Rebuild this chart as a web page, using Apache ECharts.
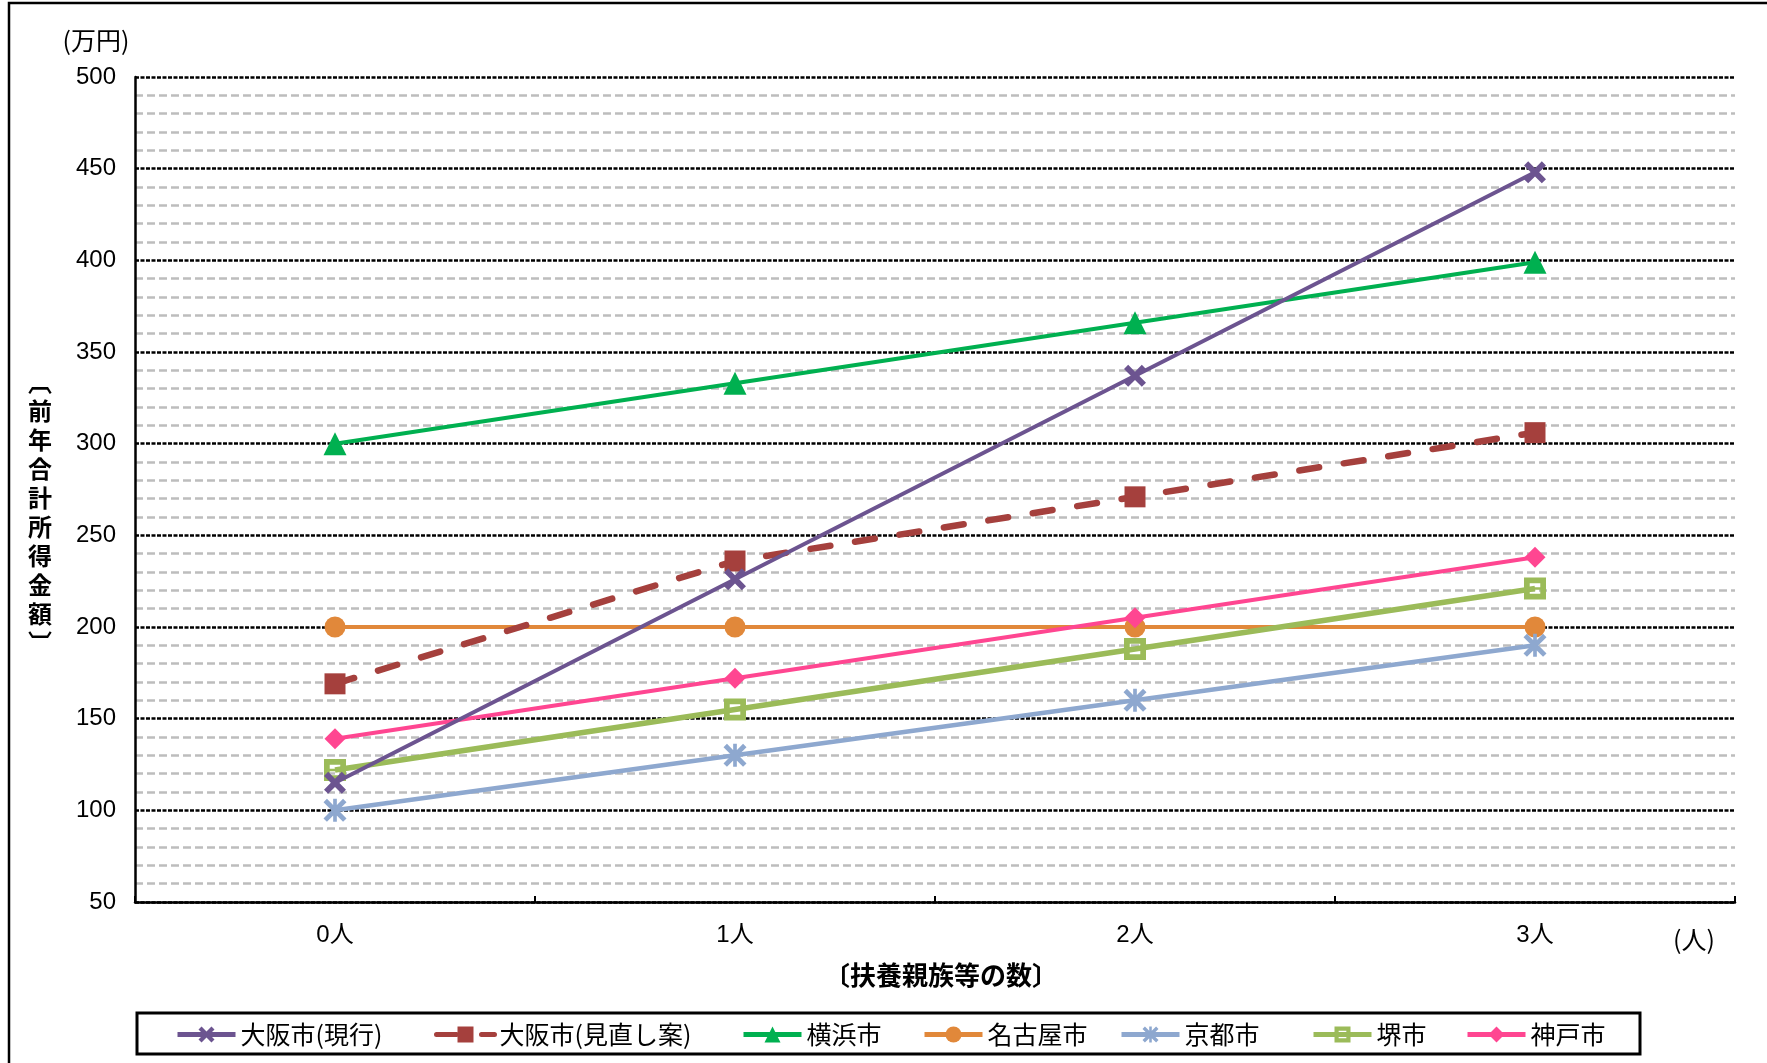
<!DOCTYPE html>
<html>
<head>
<meta charset="utf-8">
<script src="https://cdn.jsdelivr.net/npm/echarts@6/dist/echarts.min.js"></script>
<style>
  html, body { margin: 0; padding: 0; background: #ffffff; }
  #chart { width: 1767px; height: 1063px; }
</style>
</head>
<body>
<div id="chart"></div>
<script>
// 扶養親族等の数
const categories = ['0人', '1人', '2人', '3人'];
// y軸目盛
const yMin = 50, yMax = 500, yStep = 50;

// 前年合計所得金額（万円）
const osakaCurrent = [115, 226, 337, 448];
const osakaRevised = [169, 236, 271, 306];
const yokohama     = [300, 333, 366, 399];
const nagoya       = [200, 200, 200, 200];
const kyoto        = [100, 130, 160, 190];
const sakai        = [122, 155, 188, 221];
const kobe         = [139, 172, 205, 238];

const seriesNames = ['大阪市(現行)', '大阪市(見直し案)', '横浜市', '名古屋市', '京都市', '堺市', '神戸市'];

const FONT = '"Liberation Sans", "Noto Sans CJK JP", sans-serif';
const JFONT = '"Noto Sans CJK JP", sans-serif';

// マーカー形状
const SYM_X = 'path://M0,1.9 L1.9,0 L5,3.1 L8.1,0 L10,1.9 L6.9,5 L10,8.1 L8.1,10 L5,6.9 L1.9,10 L0,8.1 L3.1,5 Z';
const SYM_STAR = 'path://M0,1.5 L1.5,0 L5,3.5 L8.5,0 L10,1.5 L6.5,5 L10,8.5 L8.5,10 L5,6.5 L1.5,10 L0,8.5 L3.5,5 Z M4.2,0 L5.8,0 L5.8,10 L4.2,10 Z';
const SYM_RING = 'path://M0,0 H10 V10 H0 Z M2.6,2.6 V4.4 H7.4 V2.6 Z M2.6,5.6 V7.4 H7.4 V5.6 Z';

function lineSeries(name, data, color, width, symbol, size, extra) {
  return Object.assign({
    name: name,
    type: 'line',
    data: data,
    symbol: symbol,
    symbolSize: size,
    showAllSymbol: true,
    lineStyle: { color: color, width: width },
    itemStyle: { color: color, opacity: 1 },
    emphasis: { disabled: true },
    animation: false
  }, extra || {});
}

const series = [
  lineSeries(seriesNames[0], osakaCurrent, '#6C5490', 4, SYM_X, 22, { z: 6 }),
  lineSeries(seriesNames[1], osakaRevised, '#A5403D', 6.5, 'rect', 21, {
    lineStyle: { color: '#A5403D', width: 6.5, type: [20, 25], cap: 'round' }, z: 5
  }),
  lineSeries(seriesNames[2], yokohama, '#00B050', 4, 'triangle', 23, { z: 5 }),
  lineSeries(seriesNames[3], nagoya, '#E1883A', 4, 'circle', 21, { z: 4 }),
  lineSeries(seriesNames[4], kyoto, '#8EA8CF', 4.5, SYM_STAR, 23, { z: 4 }),
  lineSeries(seriesNames[5], sakai, '#9BBB59', 5.5, SYM_RING, 22, { z: 4 }),
  lineSeries(seriesNames[6], kobe, '#FF4691', 4, 'diamond', 21, { z: 4 })
];

// 凡例（各項目の左端位置）
const legendLefts = [175, 434, 741, 922, 1119, 1311, 1465];
const legends = seriesNames.map((n, i) => ({
  data: [n],
  left: legendLefts[i],
  top: 1022,
  padding: 0,
  itemWidth: 58,
  itemHeight: 20,
  itemGap: 6,
  lineStyle: { width: 5 },
  textStyle: { fontFamily: JFONT, fontSize: 25, color: '#000' },
  selectedMode: false
}));

// 縦書きの軸タイトル
const yTitleChars = ['︹', '前', '年', '合', '計', '所', '得', '金', '額', '︺'];

const chart = echarts.init(document.getElementById('chart'), null, { renderer: 'canvas' });
chart.setOption({
  backgroundColor: '#ffffff',
  animation: false,
  grid: { left: 135, right: 32, top: 77, bottom: 161, containLabel: false },
  legend: legends,
  xAxis: {
    type: 'category',
    data: categories,
    boundaryGap: true,
    axisLine: { show: true, onZero: false, lineStyle: { color: '#000', width: 2.5 } },
    axisTick: { show: true, inside: true, length: 6, lineStyle: { color: '#000', width: 2 } },
    axisLabel: { fontFamily: FONT, fontSize: 24, color: '#000', margin: 21 },
    splitLine: { show: false }
  },
  yAxis: {
    type: 'value',
    min: yMin,
    max: yMax,
    interval: yStep,
    axisLine: { show: true, lineStyle: { color: '#000', width: 2.5 } },
    axisTick: { show: false },
    axisLabel: { fontFamily: FONT, fontSize: 24, color: '#000', margin: 19 },
    splitLine: { show: true, lineStyle: { color: '#000', width: 2.5, type: [4, 1.5] } },
    minorTick: { show: false, splitNumber: 5 },
    minorSplitLine: { show: true, lineStyle: { color: '#BDBDBD', width: 2.5, type: [8, 4] } }
  },
  series: series,
  graphic: [
    {
      type: 'rect', silent: true, z: 0,
      shape: { x: 9, y: 3, width: 1800, height: 1100 },
      style: { fill: 'none', stroke: '#000', lineWidth: 2.5 }
    },
    {
      type: 'rect', silent: true, z: 0,
      shape: { x: 137, y: 1013, width: 1503, height: 41 },
      style: { fill: 'none', stroke: '#000', lineWidth: 3 }
    },
    {
      type: 'text', silent: true,
      style: { x: 96, y: 40, text: '(万円)', fontFamily: JFONT, fontSize: 25, fill: '#000', align: 'center', verticalAlign: 'middle' }
    },
    {
      type: 'text', silent: true,
      style: { x: 1694, y: 939, text: '(人)', fontFamily: JFONT, fontSize: 25, fill: '#000', align: 'center', verticalAlign: 'middle' }
    },
    {
      type: 'text', silent: true,
      style: { x: 941, y: 975, text: '〔扶養親族等の数〕', fontFamily: JFONT, fontWeight: 'bold', fontSize: 26, fill: '#000', align: 'center', verticalAlign: 'middle' }
    },
    {
      type: 'text', silent: true,
      style: { x: 40, y: 512, text: yTitleChars.join('\n'), lineHeight: 29, fontFamily: JFONT, fontWeight: 'bold', fontSize: 24, fill: '#000', align: 'center', verticalAlign: 'middle' }
    }
  ]
});
</script>
</body>
</html>
